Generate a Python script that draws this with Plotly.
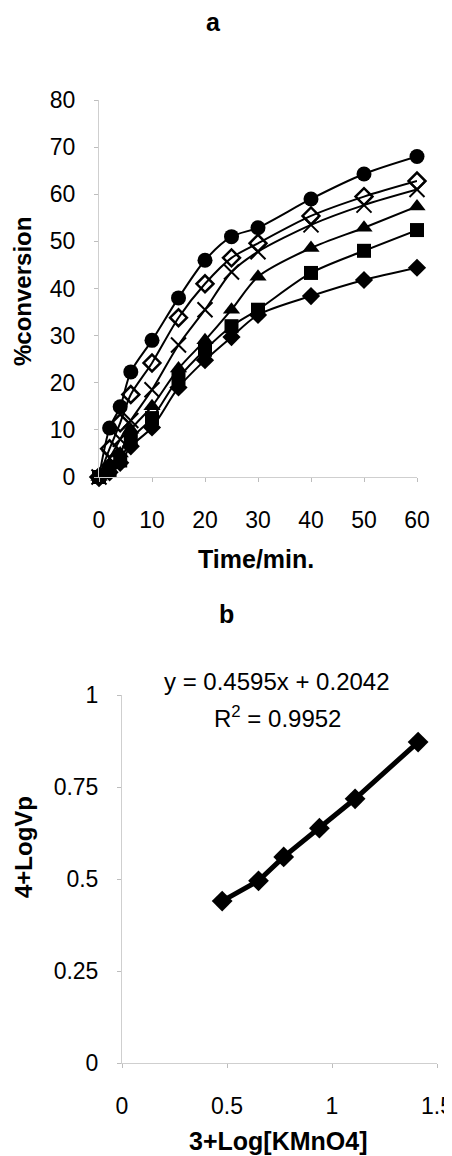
import plotly.graph_objects as go

# Panel a data
time_min = [0, 2, 4, 6, 10, 15, 20, 25, 30, 40, 50, 60]
conv_circle = [0, 10.4, 14.9, 22.3, 29, 38, 46, 51, 52.9, 59, 64.3, 68]
conv_open_diamond = [0, 6, 11.5, 17.5, 24.2, 33.8, 41, 46.5, 49.6, 55.4, 59.5, 62.8]
conv_x = [0, 4, 8, 12, 18.5, 28, 35.5, 43.5, 47.8, 53.5, 57.7, 61]
conv_triangle = [0, 2.5, 5, 10, 15, 23, 29, 35.5, 42.5, 48.6, 52.9, 57.4]
conv_square = [0, 1.5, 3.5, 8, 12.5, 21, 27, 32, 35.5, 43.3, 48, 52.4]
conv_diamond = [0, 1, 3, 6.5, 10.5, 19, 24.8, 29.7, 34.4, 38.4, 41.8, 44.4]

# Panel b data
log_kmno4 = [0.477, 0.65, 0.77, 0.94, 1.11, 1.41]
log_vp = [0.44, 0.495, 0.56, 0.638, 0.718, 0.872]

a_ticks = [0, 10, 20, 30, 40, 50, 60]
a_yticks = [0, 10, 20, 30, 40, 50, 60, 70, 80]
b_xticks = [0, 0.5, 1, 1.5]
b_yticks = [0, 0.25, 0.5, 0.75, 1]

OFF = 8  # page body margin
W, H = 452, 1156 - OFF
FONT = "Liberation Sans, Arial, sans-serif"

fig = go.Figure()

series = [
    (conv_circle, dict(symbol="circle", size=15, color="black")),
    (conv_open_diamond, dict(symbol="diamond-open", size=13, color="black", line=dict(width=2.5, color="black"))),
    (conv_x, dict(symbol="x-thin", size=15, color="black", line=dict(width=2, color="black"))),
    (conv_triangle, dict(symbol="triangle-up", size=15, color="black")),
    (conv_square, dict(symbol="square", size=14, color="black")),
    (conv_diamond, dict(symbol="diamond", size=14, color="black")),
]
for vals, mk in series:
    fig.add_trace(go.Scatter(
        x=time_min, y=vals, mode="lines+markers",
        line=dict(color="black", width=2, shape="spline", smoothing=0.8),
        marker=mk, cliponaxis=False, showlegend=False,
        xaxis="x", yaxis="y",
    ))

fig.add_trace(go.Scatter(
    x=log_kmno4, y=log_vp, mode="lines+markers",
    line=dict(color="black", width=5),
    marker=dict(symbol="diamond", size=16, color="black"),
    cliponaxis=False, showlegend=False, xaxis="x2", yaxis="y2",
))

def px_x(p):
    return (p - OFF) / W

def px_y(p):
    return 1 - (p - OFF) / H

axis_common = dict(
    showgrid=False, zeroline=False, showline=True, linecolor="#cfcfcf", linewidth=1,
    ticks="outside", ticklen=4, tickcolor="#bdbdbd", automargin=False,
    ticklabeloverflow="allow",
    tickfont=dict(family=FONT, size=23, color="black"),
)

fig.update_layout(
    width=W, height=H,
    margin=dict(l=0, r=0, t=0, b=0, pad=0),
    paper_bgcolor="white", plot_bgcolor="white",
    xaxis=dict(domain=[px_x(99), px_x(417)], range=[0, 60], anchor="y",
               tickvals=a_ticks, ticklabelstandoff=18, **axis_common),
    yaxis=dict(domain=[px_y(477), px_y(100)], range=[0, 80], anchor="x",
               tickvals=a_yticks, ticklabelstandoff=14, **axis_common),
    xaxis2=dict(domain=[px_x(122), px_x(437)], range=[0, 1.5], anchor="y2",
                tickvals=b_xticks, ticklabelstandoff=18, **axis_common),
    yaxis2=dict(domain=[px_y(1063), px_y(695)], range=[0, 1], anchor="x2",
                tickvals=b_yticks, ticklabelstandoff=14, **axis_common),
)

def ann(text, x, y, size, bold=False, angle=0):
    fig.add_annotation(
        text=f"<b>{text}</b>" if bold else text,
        xref="paper", yref="paper", x=px_x(x), y=px_y(y),
        xanchor="center", yanchor="middle", showarrow=False, textangle=angle,
        font=dict(family=FONT, size=size, color="black"),
    )

ann("a", 213, 22, 25, bold=True)
ann("b", 226, 614, 25, bold=True)
ann("Time/min.", 256, 559, 25, bold=True)
ann("3+Log[KMnO4]", 278, 1141, 25, bold=True)
ann("%conversion", 23, 292, 24, bold=True, angle=-90)
ann("4+LogVp", 23, 847, 24, bold=True, angle=-90)
ann("y = 0.4595x + 0.2042", 277, 681, 24)
ann("R<sup>2</sup> = 0.9952", 277, 717, 24)

fig.write_html("out.html")
